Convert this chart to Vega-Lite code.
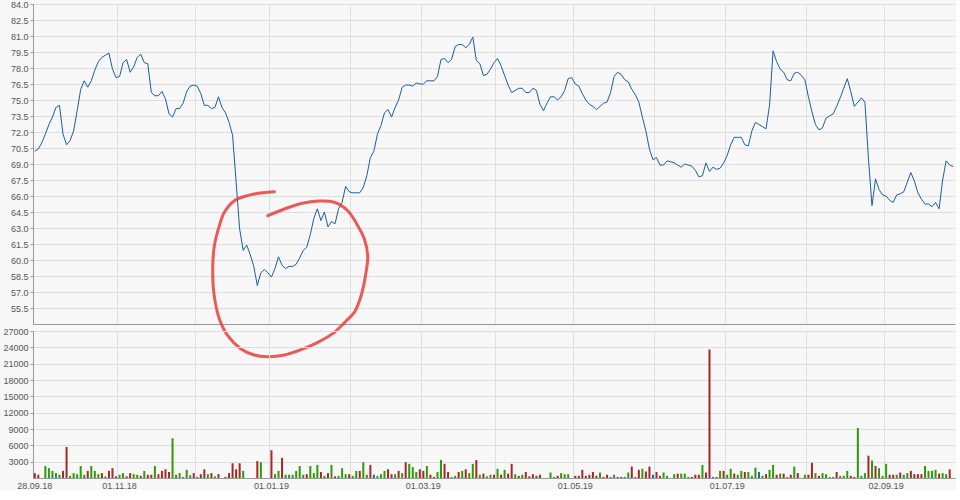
{
"$schema": "https://vega.github.io/schema/vega-lite/v6.json",
"background": "#f7f7f7",
"padding": {"left": 2, "top": 0, "right": 0, "bottom": 0},
"spacing": 7,
"bounds": "flush",
"config": {
  "view": {"stroke": null},
  "font": "Liberation Sans",
  "axis": {"labelFont": "Liberation Sans", "labelFontSize": 9, "labelColor": "#555555", "domainColor": "#999999", "tickColor": "#999999", "gridColor": "#dedede", "gridWidth": 1, "tickSize": 3, "labelPadding": 2, "title": null}
},
"datasets": {
"s": [
{"d":"28.09.18","p":70.2,"v":900,"c":"d"},
{"d":"01.10.18","p":70.4,"v":600,"c":"d"},
{"d":"02.10.18","p":71.0,"v":0,"c":"u"},
{"d":"03.10.18","p":71.8,"v":2200,"c":"u"},
{"d":"04.10.18","p":72.7,"v":1800,"c":"u"},
{"d":"05.10.18","p":73.4,"v":1300,"c":"u"},
{"d":"08.10.18","p":74.3,"v":900,"c":"u"},
{"d":"09.10.18","p":74.5,"v":600,"c":"u"},
{"d":"10.10.18","p":71.8,"v":1300,"c":"d"},
{"d":"11.10.18","p":70.8,"v":5700,"c":"d"},
{"d":"12.10.18","p":71.2,"v":400,"c":"u"},
{"d":"15.10.18","p":72.1,"v":900,"c":"u"},
{"d":"16.10.18","p":74.0,"v":700,"c":"u"},
{"d":"17.10.18","p":76.0,"v":2200,"c":"u"},
{"d":"18.10.18","p":76.8,"v":600,"c":"u"},
{"d":"19.10.18","p":76.2,"v":1300,"c":"d"},
{"d":"22.10.18","p":76.8,"v":2200,"c":"u"},
{"d":"23.10.18","p":77.8,"v":1300,"c":"u"},
{"d":"24.10.18","p":78.6,"v":700,"c":"u"},
{"d":"25.10.18","p":79.0,"v":900,"c":"d"},
{"d":"26.10.18","p":79.2,"v":300,"c":"u"},
{"d":"29.10.18","p":79.4,"v":1300,"c":"d"},
{"d":"30.10.18","p":77.9,"v":1800,"c":"d"},
{"d":"31.10.18","p":77.1,"v":300,"c":"d"},
{"d":"01.11.18","p":77.2,"v":600,"c":"u"},
{"d":"02.11.18","p":78.5,"v":900,"c":"u"},
{"d":"05.11.18","p":78.8,"v":300,"c":"d"},
{"d":"06.11.18","p":77.6,"v":900,"c":"d"},
{"d":"07.11.18","p":78.1,"v":700,"c":"u"},
{"d":"08.11.18","p":79.0,"v":600,"c":"u"},
{"d":"09.11.18","p":79.3,"v":400,"c":"d"},
{"d":"12.11.18","p":78.5,"v":1300,"c":"u"},
{"d":"13.11.18","p":78.4,"v":600,"c":"d"},
{"d":"14.11.18","p":75.7,"v":600,"c":"d"},
{"d":"15.11.18","p":75.4,"v":2200,"c":"u"},
{"d":"16.11.18","p":75.4,"v":700,"c":"d"},
{"d":"19.11.18","p":75.8,"v":1300,"c":"d"},
{"d":"20.11.18","p":75.1,"v":1600,"c":"d"},
{"d":"21.11.18","p":73.7,"v":1100,"c":"d"},
{"d":"22.11.18","p":73.4,"v":7300,"c":"u"},
{"d":"23.11.18","p":74.2,"v":600,"c":"u"},
{"d":"26.11.18","p":74.2,"v":900,"c":"u"},
{"d":"27.11.18","p":74.7,"v":200,"c":"u"},
{"d":"28.11.18","p":75.8,"v":1500,"c":"u"},
{"d":"29.11.18","p":76.3,"v":500,"c":"u"},
{"d":"30.11.18","p":76.4,"v":900,"c":"d"},
{"d":"03.12.18","p":76.3,"v":200,"c":"d"},
{"d":"04.12.18","p":75.6,"v":700,"c":"d"},
{"d":"05.12.18","p":74.5,"v":1600,"c":"d"},
{"d":"06.12.18","p":74.5,"v":700,"c":"u"},
{"d":"07.12.18","p":74.2,"v":900,"c":"d"},
{"d":"10.12.18","p":74.3,"v":300,"c":"u"},
{"d":"11.12.18","p":75.3,"v":700,"c":"d"},
{"d":"12.12.18","p":74.3,"v":0,"c":"u"},
{"d":"13.12.18","p":73.8,"v":200,"c":"d"},
{"d":"14.12.18","p":72.9,"v":900,"c":"d"},
{"d":"17.12.18","p":71.7,"v":2700,"c":"d"},
{"d":"18.12.18","p":67.3,"v":1600,"c":"d"},
{"d":"19.12.18","p":62.9,"v":2700,"c":"d"},
{"d":"20.12.18","p":60.9,"v":1300,"c":"u"},
{"d":"21.12.18","p":61.4,"v":0,"c":"u"},
{"d":"24.12.18","p":60.5,"v":0,"c":"u"},
{"d":"25.12.18","p":59.4,"v":0,"c":"u"},
{"d":"26.12.18","p":57.6,"v":3100,"c":"d"},
{"d":"27.12.18","p":58.8,"v":2900,"c":"u"},
{"d":"28.12.18","p":59.1,"v":0,"c":"u"},
{"d":"31.12.18","p":58.8,"v":0,"c":"u"},
{"d":"01.01.19","p":58.4,"v":5100,"c":"d"},
{"d":"02.01.19","p":59.2,"v":700,"c":"u"},
{"d":"03.01.19","p":60.3,"v":1300,"c":"u"},
{"d":"04.01.19","p":59.5,"v":3700,"c":"d"},
{"d":"07.01.19","p":59.2,"v":600,"c":"u"},
{"d":"08.01.19","p":59.4,"v":600,"c":"u"},
{"d":"09.01.19","p":59.4,"v":600,"c":"u"},
{"d":"10.01.19","p":59.6,"v":1300,"c":"u"},
{"d":"11.01.19","p":60.2,"v":2200,"c":"u"},
{"d":"14.01.19","p":60.9,"v":600,"c":"u"},
{"d":"15.01.19","p":61.2,"v":700,"c":"d"},
{"d":"16.01.19","p":62.4,"v":2200,"c":"u"},
{"d":"17.01.19","p":63.9,"v":900,"c":"u"},
{"d":"18.01.19","p":64.8,"v":2400,"c":"u"},
{"d":"21.01.19","p":63.7,"v":1100,"c":"d"},
{"d":"22.01.19","p":64.5,"v":400,"c":"u"},
{"d":"23.01.19","p":63.1,"v":900,"c":"d"},
{"d":"24.01.19","p":63.6,"v":2400,"c":"u"},
{"d":"25.01.19","p":63.4,"v":300,"c":"d"},
{"d":"28.01.19","p":64.8,"v":400,"c":"u"},
{"d":"29.01.19","p":65.4,"v":1800,"c":"u"},
{"d":"30.01.19","p":66.9,"v":700,"c":"u"},
{"d":"31.01.19","p":66.4,"v":700,"c":"d"},
{"d":"01.02.19","p":66.3,"v":400,"c":"u"},
{"d":"04.02.19","p":66.3,"v":1300,"c":"u"},
{"d":"05.02.19","p":66.3,"v":1300,"c":"d"},
{"d":"06.02.19","p":66.8,"v":2900,"c":"u"},
{"d":"07.02.19","p":67.9,"v":600,"c":"u"},
{"d":"08.02.19","p":69.6,"v":2400,"c":"d"},
{"d":"11.02.19","p":70.2,"v":600,"c":"f"},
{"d":"12.02.19","p":71.8,"v":400,"c":"u"},
{"d":"13.02.19","p":72.6,"v":700,"c":"u"},
{"d":"14.02.19","p":73.8,"v":1300,"c":"u"},
{"d":"15.02.19","p":74.1,"v":1600,"c":"d"},
{"d":"18.02.19","p":73.4,"v":700,"c":"d"},
{"d":"19.02.19","p":74.3,"v":700,"c":"u"},
{"d":"20.02.19","p":75.0,"v":1300,"c":"d"},
{"d":"21.02.19","p":76.2,"v":900,"c":"u"},
{"d":"22.02.19","p":76.4,"v":2900,"c":"d"},
{"d":"25.02.19","p":76.4,"v":2600,"c":"u"},
{"d":"26.02.19","p":76.3,"v":2000,"c":"u"},
{"d":"27.02.19","p":76.6,"v":1100,"c":"u"},
{"d":"28.02.19","p":76.5,"v":1600,"c":"d"},
{"d":"01.03.19","p":76.5,"v":1300,"c":"d"},
{"d":"04.03.19","p":76.8,"v":2200,"c":"u"},
{"d":"05.03.19","p":76.8,"v":600,"c":"d"},
{"d":"06.03.19","p":76.8,"v":200,"c":"d"},
{"d":"07.03.19","p":77.2,"v":1100,"c":"u"},
{"d":"08.03.19","p":78.8,"v":3300,"c":"u"},
{"d":"11.03.19","p":78.9,"v":2600,"c":"d"},
{"d":"12.03.19","p":78.5,"v":1100,"c":"d"},
{"d":"13.03.19","p":78.8,"v":200,"c":"u"},
{"d":"14.03.19","p":80.0,"v":400,"c":"u"},
{"d":"15.03.19","p":80.2,"v":1100,"c":"d"},
{"d":"18.03.19","p":80.2,"v":1300,"c":"u"},
{"d":"19.03.19","p":79.9,"v":1600,"c":"d"},
{"d":"20.03.19","p":80.2,"v":900,"c":"u"},
{"d":"21.03.19","p":80.9,"v":2600,"c":"u"},
{"d":"22.03.19","p":78.7,"v":3300,"c":"d"},
{"d":"25.03.19","p":78.4,"v":600,"c":"u"},
{"d":"26.03.19","p":77.3,"v":800,"c":"d"},
{"d":"27.03.19","p":77.4,"v":300,"c":"u"},
{"d":"28.03.19","p":77.9,"v":600,"c":"u"},
{"d":"29.03.19","p":78.5,"v":600,"c":"d"},
{"d":"01.04.19","p":78.9,"v":1700,"c":"u"},
{"d":"02.04.19","p":78.2,"v":600,"c":"d"},
{"d":"03.04.19","p":77.3,"v":1500,"c":"u"},
{"d":"04.04.19","p":76.4,"v":800,"c":"d"},
{"d":"05.04.19","p":75.7,"v":2600,"c":"d"},
{"d":"08.04.19","p":75.9,"v":700,"c":"u"},
{"d":"09.04.19","p":76.1,"v":400,"c":"d"},
{"d":"10.04.19","p":76.1,"v":600,"c":"u"},
{"d":"11.04.19","p":75.7,"v":1100,"c":"d"},
{"d":"12.04.19","p":75.7,"v":300,"c":"d"},
{"d":"15.04.19","p":76.1,"v":700,"c":"d"},
{"d":"16.04.19","p":75.9,"v":400,"c":"d"},
{"d":"17.04.19","p":74.6,"v":600,"c":"d"},
{"d":"18.04.19","p":74.0,"v":0,"c":"u"},
{"d":"19.04.19","p":74.7,"v":0,"c":"u"},
{"d":"22.04.19","p":75.3,"v":1000,"c":"u"},
{"d":"23.04.19","p":75.3,"v":200,"c":"u"},
{"d":"24.04.19","p":75.0,"v":400,"c":"d"},
{"d":"25.04.19","p":75.3,"v":900,"c":"u"},
{"d":"26.04.19","p":75.9,"v":700,"c":"u"},
{"d":"29.04.19","p":77.0,"v":700,"c":"u"},
{"d":"30.04.19","p":77.1,"v":0,"c":"u"},
{"d":"01.05.19","p":76.5,"v":400,"c":"d"},
{"d":"02.05.19","p":76.3,"v":400,"c":"d"},
{"d":"03.05.19","p":75.6,"v":1500,"c":"d"},
{"d":"06.05.19","p":75.0,"v":400,"c":"d"},
{"d":"07.05.19","p":74.6,"v":600,"c":"d"},
{"d":"08.05.19","p":74.4,"v":1100,"c":"d"},
{"d":"09.05.19","p":74.1,"v":400,"c":"d"},
{"d":"10.05.19","p":74.4,"v":1000,"c":"u"},
{"d":"13.05.19","p":74.7,"v":200,"c":"d"},
{"d":"14.05.19","p":74.8,"v":600,"c":"d"},
{"d":"15.05.19","p":75.7,"v":200,"c":"u"},
{"d":"16.05.19","p":77.2,"v":600,"c":"u"},
{"d":"17.05.19","p":77.6,"v":200,"c":"d"},
{"d":"20.05.19","p":77.4,"v":200,"c":"d"},
{"d":"21.05.19","p":76.9,"v":200,"c":"u"},
{"d":"22.05.19","p":76.7,"v":1000,"c":"u"},
{"d":"23.05.19","p":76.0,"v":2100,"c":"d"},
{"d":"24.05.19","p":75.5,"v":200,"c":"u"},
{"d":"27.05.19","p":74.8,"v":1500,"c":"d"},
{"d":"28.05.19","p":73.4,"v":1700,"c":"u"},
{"d":"29.05.19","p":72.1,"v":1200,"c":"d"},
{"d":"30.05.19","p":70.4,"v":2100,"c":"d"},
{"d":"31.05.19","p":69.4,"v":600,"c":"f"},
{"d":"03.06.19","p":69.6,"v":1100,"c":"d"},
{"d":"04.06.19","p":68.9,"v":400,"c":"d"},
{"d":"05.06.19","p":68.9,"v":1000,"c":"u"},
{"d":"06.06.19","p":69.3,"v":400,"c":"u"},
{"d":"07.06.19","p":69.2,"v":0,"c":"u"},
{"d":"10.06.19","p":69.1,"v":700,"c":"u"},
{"d":"11.06.19","p":68.9,"v":800,"c":"d"},
{"d":"12.06.19","p":68.7,"v":800,"c":"u"},
{"d":"13.06.19","p":69.0,"v":800,"c":"u"},
{"d":"14.06.19","p":68.9,"v":200,"c":"u"},
{"d":"17.06.19","p":68.8,"v":200,"c":"d"},
{"d":"18.06.19","p":68.4,"v":600,"c":"d"},
{"d":"19.06.19","p":67.8,"v":600,"c":"d"},
{"d":"20.06.19","p":67.9,"v":2400,"c":"u"},
{"d":"21.06.19","p":69.1,"v":1000,"c":"d"},
{"d":"24.06.19","p":68.3,"v":23600,"c":"d"},
{"d":"25.06.19","p":68.7,"v":200,"c":"u"},
{"d":"26.06.19","p":68.5,"v":200,"c":"u"},
{"d":"27.06.19","p":68.6,"v":1300,"c":"u"},
{"d":"28.06.19","p":69.1,"v":1300,"c":"d"},
{"d":"01.07.19","p":69.8,"v":600,"c":"u"},
{"d":"02.07.19","p":70.8,"v":1700,"c":"u"},
{"d":"03.07.19","p":71.5,"v":800,"c":"d"},
{"d":"04.07.19","p":71.5,"v":600,"c":"u"},
{"d":"05.07.19","p":71.5,"v":1300,"c":"u"},
{"d":"08.07.19","p":70.8,"v":1100,"c":"d"},
{"d":"09.07.19","p":70.7,"v":1100,"c":"u"},
{"d":"10.07.19","p":72.1,"v":400,"c":"u"},
{"d":"11.07.19","p":72.9,"v":1900,"c":"u"},
{"d":"12.07.19","p":72.7,"v":1100,"c":"f"},
{"d":"15.07.19","p":72.5,"v":400,"c":"u"},
{"d":"16.07.19","p":72.3,"v":700,"c":"d"},
{"d":"17.07.19","p":74.5,"v":1500,"c":"u"},
{"d":"18.07.19","p":79.6,"v":2400,"c":"u"},
{"d":"19.07.19","p":78.6,"v":600,"c":"d"},
{"d":"22.07.19","p":77.9,"v":800,"c":"u"},
{"d":"23.07.19","p":77.6,"v":800,"c":"d"},
{"d":"24.07.19","p":76.9,"v":200,"c":"u"},
{"d":"25.07.19","p":76.8,"v":600,"c":"d"},
{"d":"26.07.19","p":77.5,"v":2100,"c":"u"},
{"d":"29.07.19","p":77.6,"v":900,"c":"d"},
{"d":"30.07.19","p":77.3,"v":0,"c":"u"},
{"d":"31.07.19","p":76.9,"v":600,"c":"u"},
{"d":"01.08.19","p":75.3,"v":600,"c":"d"},
{"d":"02.08.19","p":73.9,"v":2800,"c":"d"},
{"d":"05.08.19","p":72.7,"v":900,"c":"u"},
{"d":"06.08.19","p":72.2,"v":400,"c":"d"},
{"d":"07.08.19","p":72.4,"v":900,"c":"u"},
{"d":"08.08.19","p":73.3,"v":700,"c":"u"},
{"d":"09.08.19","p":73.5,"v":200,"c":"u"},
{"d":"12.08.19","p":73.7,"v":200,"c":"u"},
{"d":"13.08.19","p":74.4,"v":1100,"c":"d"},
{"d":"14.08.19","p":75.2,"v":400,"c":"u"},
{"d":"15.08.19","p":76.1,"v":400,"c":"u"},
{"d":"16.08.19","p":77.0,"v":1300,"c":"u"},
{"d":"19.08.19","p":75.8,"v":400,"c":"d"},
{"d":"20.08.19","p":74.4,"v":200,"c":"d"},
{"d":"21.08.19","p":74.8,"v":9200,"c":"u"},
{"d":"22.08.19","p":75.2,"v":400,"c":"u"},
{"d":"23.08.19","p":74.8,"v":900,"c":"u"},
{"d":"26.08.19","p":69.5,"v":4100,"c":"d"},
{"d":"27.08.19","p":65.1,"v":3200,"c":"u"},
{"d":"28.08.19","p":67.6,"v":2200,"c":"d"},
{"d":"29.08.19","p":66.6,"v":1800,"c":"u"},
{"d":"30.08.19","p":66.1,"v":400,"c":"u"},
{"d":"02.09.19","p":66.0,"v":2600,"c":"u"},
{"d":"03.09.19","p":65.6,"v":600,"c":"d"},
{"d":"04.09.19","p":65.4,"v":600,"c":"d"},
{"d":"05.09.19","p":66.1,"v":600,"c":"u"},
{"d":"06.09.19","p":66.2,"v":1000,"c":"d"},
{"d":"09.09.19","p":66.4,"v":600,"c":"u"},
{"d":"10.09.19","p":67.3,"v":900,"c":"u"},
{"d":"11.09.19","p":68.2,"v":1300,"c":"d"},
{"d":"12.09.19","p":67.4,"v":700,"c":"d"},
{"d":"13.09.19","p":66.3,"v":700,"c":"d"},
{"d":"16.09.19","p":65.7,"v":700,"c":"d"},
{"d":"17.09.19","p":65.25,"v":2200,"c":"u"},
{"d":"18.09.19","p":65.25,"v":1300,"c":"u"},
{"d":"19.09.19","p":65.0,"v":1300,"c":"u"},
{"d":"20.09.19","p":65.4,"v":1500,"c":"u"},
{"d":"23.09.19","p":64.8,"v":800,"c":"d"},
{"d":"24.09.19","p":67.5,"v":900,"c":"u"},
{"d":"25.09.19","p":69.3,"v":700,"c":"u"},
{"d":"26.09.19","p":68.9,"v":1600,"c":"d"},
{"d":"27.09.19","p":68.75,"v":0,"c":"u"}
],
"circle": [
{"k":1,"t":65.96,"p":64.15},
{"k":2,"t":70.66,"p":64.78},
{"k":3,"t":75.38,"p":65.30},
{"k":4,"t":80.56,"p":65.53},
{"k":5,"t":84.81,"p":65.41},
{"k":6,"t":88.6,"p":64.62},
{"k":7,"t":91.43,"p":63.22},
{"k":8,"t":93.3,"p":61.97},
{"k":9,"t":94.26,"p":60.40},
{"k":10,"t":93.78,"p":58.85},
{"k":11,"t":92.37,"p":56.65},
{"k":12,"t":90.47,"p":55.10},
{"k":13,"t":88.12,"p":54.28},
{"k":14,"t":84.81,"p":53.22},
{"k":15,"t":80.11,"p":52.28},
{"k":16,"t":75.38,"p":51.59},
{"k":17,"t":70.66,"p":51.09},
{"k":18,"t":65.96,"p":50.93},
{"k":19,"t":62.17,"p":51.09},
{"k":20,"t":58.4,"p":51.66},
{"k":21,"t":54.64,"p":52.90},
{"k":22,"t":52.26,"p":54.47},
{"k":23,"t":50.67,"p":56.97},
{"k":24,"t":50.39,"p":59.47},
{"k":25,"t":50.84,"p":61.34},
{"k":26,"t":52.26,"p":63.22},
{"k":27,"t":53.67,"p":64.47},
{"k":28,"t":56.5,"p":65.56},
{"k":29,"t":62.17,"p":66.19},
{"k":30,"t":67.83,"p":66.40}
]
},
"vconcat": [
{
  "width": 922,
  "height": 320,
  "layer": [
    {
      "data": {"name": "s"},
      "mark": {"type": "line", "color": "#1b5e9e", "strokeWidth": 1},
      "encoding": {
        "x": {"field": "d", "type": "ordinal", "sort": null,
              "scale": {"type": "band", "paddingInner": 0, "paddingOuter": 0},
              "axis": {"values": ["01.11.18","03.12.18","01.01.19","01.02.19","01.03.19","01.04.19","01.05.19","03.06.19","01.07.19","01.08.19","02.09.19"],
                       "bandPosition": 0, "labels": false, "ticks": false, "grid": true, "domain": true, "title": null}},
        "y": {"field": "p", "type": "quantitative",
              "scale": {"domain": [54, 84], "nice": false, "zero": false},
              "axis": {"values": [55.5,57,58.5,60,61.5,63,64.5,66,67.5,69,70.5,72,73.5,75,76.5,78,79.5,81,82.5,84], "format": ".1f", "grid": true, "title": null}}
      }
    },
    {
      "data": {"name": "circle"},
      "mark": {"type": "line", "interpolate": "catmull-rom", "color": "#e8403c", "strokeWidth": 3, "opacity": 0.85, "strokeCap": "round", "strokeJoin": "round", "clip": false},
      "encoding": {
        "x": {"field": "t", "type": "quantitative", "scale": {"domain": [-0.5, 260.5], "nice": false, "zero": false}, "axis": null},
        "y": {"field": "p", "type": "quantitative",
              "scale": {"domain": [54, 84], "nice": false, "zero": false},
              "axis": {"values": [55.5,57,58.5,60,61.5,63,64.5,66,67.5,69,70.5,72,73.5,75,76.5,78,79.5,81,82.5,84], "format": ".1f", "grid": true, "title": null}},
        "order": {"field": "k", "type": "quantitative"}
      }
    }
  ],
  "resolve": {"scale": {"x": "independent"}}
},
{
  "width": 922,
  "height": 147,
  "data": {"name": "s"},
  "mark": {"type": "bar", "width": 2},
  "encoding": {
    "x": {"field": "d", "type": "ordinal", "sort": null,
          "scale": {"type": "band", "paddingInner": 0, "paddingOuter": 0},
          "axis": {"values": ["28.09.18","01.11.18","03.12.18","01.01.19","01.02.19","01.03.19","01.04.19","01.05.19","03.06.19","01.07.19","01.08.19","02.09.19"],
                   "bandPosition": 0, "labelAngle": 0, "labelOverlap": false, "ticks": false, "labelPadding": 3, "grid": true, "domain": true, "title": null,
                   "labelExpr": "indexof(['28.09.18','01.11.18','01.01.19','01.03.19','01.05.19','01.07.19','02.09.19'], datum.value) >= 0 ? datum.value : ''"}},
    "y": {"field": "v", "type": "quantitative",
          "scale": {"domain": [0, 27000], "nice": false},
          "axis": {"values": [3000,6000,9000,12000,15000,18000,21000,24000,27000], "format": "d", "grid": true, "title": null}},
    "color": {"field": "c", "type": "nominal",
              "scale": {"domain": ["u","d","f"], "range": ["#2f9a08","#a42828","#1f5fa0"]}, "legend": null}
  }
}
]
}
